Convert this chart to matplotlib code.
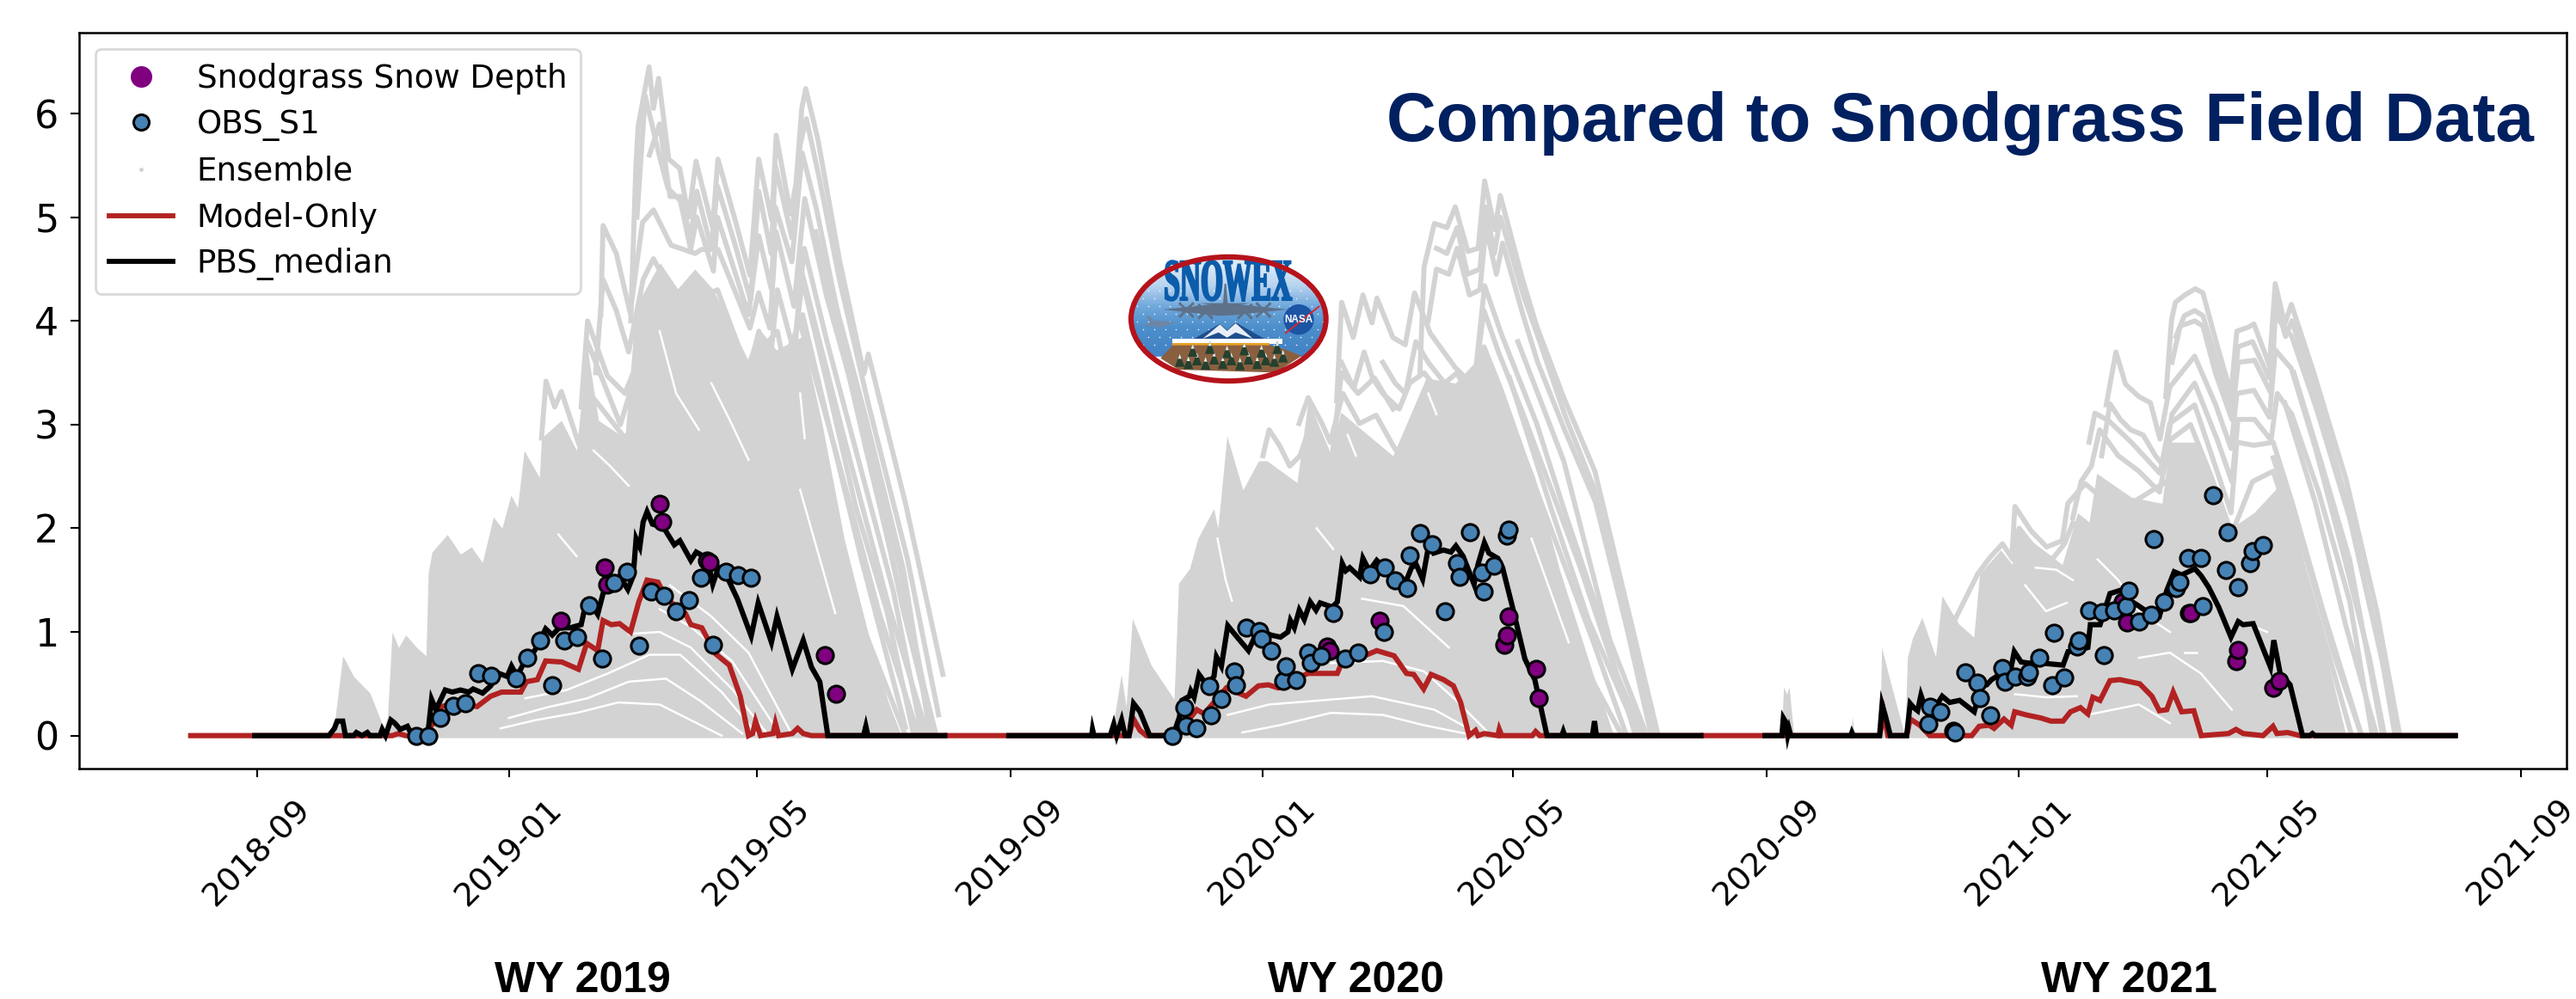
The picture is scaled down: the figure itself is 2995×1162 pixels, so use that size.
import matplotlib
matplotlib.use("Agg")
import matplotlib.pyplot as plt
import matplotlib.dates as mdates
import numpy as np
from datetime import datetime
from matplotlib.lines import Line2D
from matplotlib.patches import Ellipse, Circle, Polygon, Rectangle, PathPatch
from matplotlib.textpath import TextPath
from matplotlib.font_manager import FontProperties
from matplotlib.transforms import Affine2D

# all day values are days since 1 Oct of the start of the water year
wy_starts = [datetime(2018, 10, 1), datetime(2019, 10, 1), datetime(2020, 10, 1)]
wy_labels = ["WY 2019", "WY 2020", "WY 2021"]
y_ticks = [0, 1, 2, 3, 4, 5, 6]
legend_labels = ["Snodgrass Snow Depth", "OBS_S1", "Ensemble", "Model-Only", "PBS_median"]

obs_days_19 = [47, 53, 59, 65, 71, 77, 83.5, 95.4, 101, 107, 113, 119, 125, 131, 137, 143, 149, 155, 161, 167, 173, 179, 185, 191, 197, 203, 209]
obs_vals_19 = [0, 0, .17, .29, .31, .60, .58, .55, .75, .92, .49, .92, .95, 1.26, .74, 1.47, 1.58, .87, 1.39, 1.35, 1.20, 1.31, 1.52, .88, 1.58, 1.55, 1.52]
obs_days_20 = [48, 54, 55, 60, 67, 66, 72, 78, 79, 84, 90, 91.5, 96, 102, 103, 108, 114, 115, 120, 126, 132, 138, 144, 150.5, 151, 156, 162, 163, 168, 174, 180, 186, 187, 192, 198, 199, 204, 210, 211]
obs_vals_20 = [0, .27, .10, .07, .20, .48, .35, .62, .49, 1.04, 1.01, .93, .82, .53, .67, .54, .80, .70, .77, 1.18, .74, .80, 1.56, 1.00, 1.62, 1.50, 1.42, 1.74, 1.95, 1.85, 1.20, 1.66, 1.53, 1.96, 1.57, 1.39, 1.64, 1.93, 1.99]
obs_days_21 = [48, 49, 54, 60, 61, 66, 72, 73, 78, 84, 85, 90, 96, 97, 102, 108, 109, 114, 120, 121, 126, 132, 133, 138, 144, 145, 150, 156, 157, 162, 168, 169.5, 174, 180, 181, 186, 192, 193, 198, 204, 205, 210]
obs_vals_21 = [.11, .28, .23, .05, .03, .61, .51, .36, .20, .65, .52, .57, .57, .61, .75, .49, .99, .56, .86, .92, 1.21, 1.19, .78, 1.21, 1.25, 1.40, 1.10, 1.17, 1.90, 1.29, 1.42, 1.48, 1.71, 1.71, 1.25, 2.32, 1.60, 1.96, 1.43, 1.66, 1.78, 1.84]

field_days_19 = [117.2, 138.4, 139.5, 165.2, 166.3, 188, 189, 245.1, 250.2]
field_vals_19 = [1.11, 1.62, 1.46, 2.24, 2.06, 1.69, 1.67, .78, .40]
field_days_20 = [123.2, 124.2, 148.3, 209, 210.2, 210.9, 224.3, 225.3]
field_vals_20 = [.86, .82, 1.11, .88, .97, 1.15, .64, .36]
field_days_21 = [142.2, 144.4, 174.2, 175.2, 197.2, 198.1, 214.9, 218]
field_vals_21 = [1.29, 1.09, 1.18, 1.18, .72, .83, .46, .53]

pbs_days_19 = [-31, 4.9, 7.6, 8.9, 11.6, 12.9, 16.9, 18.2, 20.9, 23.5, 24.8, 29.6, 30.7, 32.3, 34.9, 36.8, 39.4, 42.9, 44.7, 52.7, 54.6, 56.7, 61.2, 64.6, 68.6, 72.6, 74.7, 79.3, 83.2, 87.2, 91.2, 93.3, 96, 99.2, 101.8, 104.5, 107.1, 109.8, 113, 116.4, 121.7, 127, 128.9, 131.5, 135, 137.6, 141.6, 145.6, 149.6, 152.2, 153.6, 155.4, 157, 158.9, 161.5, 166.8, 172.1, 174.8, 180.1, 182.7, 188, 190.7, 193.4, 197.4, 202.6, 209.3, 212.7, 219.1, 221.8, 229.2, 234.5, 238.5, 242.5, 246.4, 263.7, 264.8, 265.8, 303]
pbs_vals_19 = [0, 0, .07, .14, .14, 0, 0, .03, 0, .03, 0, 0, .06, 0, .15, .12, .06, .09, .02, 0, .35, .25, .44, .42, .44, .42, .45, .41, .48, .6, .57, .67, .57, .7, .77, .82, .92, 1.03, .97, 1.04, 1.04, 1.07, 1.24, 1.28, 1.17, 1.37, 1.48, 1.54, 1.41, 1.54, 1.9, 1.82, 2.06, 2.16, 2.04, 2.01, 1.84, 1.88, 1.69, 1.77, 1.71, 1.46, 1.62, 1.54, 1.32, .96, 1.28, .9, 1.15, .64, .92, .66, .52, 0, 0, .09, 0, 0]
pbs_days_20 = [-31, 9.1, 9.5, 10.2, 18.1, 19.8, 21.2, 23.6, 25.3, 27.2, 29.4, 32.5, 37.2, 48.5, 51.6, 52.8, 56.4, 57.1, 58.7, 61.1, 64.7, 68.3, 69.5, 71.9, 75, 79.1, 85, 89.8, 95.8, 100.5, 104.1, 105.3, 107.2, 109.6, 112, 114.9, 117.7, 119.7, 125.6, 128, 130.4, 132.1, 134, 138.8, 140.4, 143.5, 147.1, 150.7, 155.5, 161.5, 163.9, 166.2, 169.3, 172.2, 174.6, 179.4, 183, 185.4, 188.9, 194.2, 196.1, 199.2, 201.4, 205.7, 208, 212.8, 218.8, 223.6, 229.5, 236.7, 237.4, 238.1, 251.5, 252.5, 253.4, 304]
pbs_vals_20 = [0, 0, .06, 0, 0, .11, 0, .15, 0, 0, .31, .23, 0, 0, .18, .34, .38, .43, .37, .59, .49, .57, .76, .67, 1.06, .96, .82, 1.03, .97, .95, 1.0, 1.11, 1.04, 1.21, 1.12, 1.29, 1.21, 1.28, 1.24, 1.29, 1.66, 1.59, 1.62, 1.53, 1.71, 1.59, 1.69, 1.62, 1.54, 1.5, 1.62, 1.65, 1.51, 1.83, 1.76, 1.79, 1.77, 1.83, 1.73, 1.46, 1.65, 1.86, 1.76, 1.71, 1.62, 1.24, .74, .54, 0, 0, .04, 0, 0, .14, 0, 0]
pbs_days_21 = [-31, -22.8, -22.1, -20.9, -20, -19.3, -18.5, 10.6, 11.1, 11.8, 24.5, 25.7, 27.3, 29.7, 37.6, 39.3, 41, 42.9, 44.5, 46.4, 50, 54.8, 58.4, 63.2, 70.3, 73.9, 76.3, 78.7, 83.5, 88.2, 89.7, 93, 96.6, 102.6, 113.3, 115.7, 120.5, 125.3, 126.5, 131.2, 136, 140.8, 144.4, 149.2, 155.1, 159.9, 163.5, 167.1, 170.7, 177.1, 180.2, 183.8, 188.6, 194.6, 198.1, 200.5, 205.3, 207.7, 213.7, 215.3, 218.4, 223.2, 229.2, 232.8, 234, 235.2, 303.2]
pbs_vals_21 = [0, 0, .17, .13, 0, .06, 0, 0, .03, 0, 0, .30, .19, 0, 0, .31, .27, .24, .39, .28, .23, .38, .32, .34, .23, .49, .49, .54, .6, .66, .81, .71, .70, .70, .68, .81, .82, .85, 1.07, 1.07, 1.37, 1.40, 1.32, 1.26, 1.18, 1.15, 1.40, 1.58, 1.55, 1.61, 1.54, 1.43, 1.24, .95, 1.10, 1.07, 1.08, .96, .66, .92, .60, .49, 0, 0, .02, 0, 0]

model_days_19 = [-62, 35.5, 38.6, 42, 52, 59.3, 67.3, 76.6, 83.2, 88.5, 97.8, 100.5, 105.8, 109.8, 117.7, 125.7, 129.7, 135, 137.6, 141.6, 145.6, 150.9, 154.9, 158.9, 164.2, 168.2, 177.4, 180.1, 185.4, 192, 198.7, 204, 208, 210, 211.4, 213.8, 219.9, 221, 222.6, 229.2, 231.8, 234.5, 238.5, 303]
model_vals_19 = [0, 0, .02, 0, 0, .28, .32, .28, .38, .42, .42, .52, .54, .72, .71, .64, .89, .82, 1.11, 1.07, 1.08, 1.0, 1.29, 1.5, 1.48, 1.32, 1.18, 1.07, 1.04, .79, .68, .38, 0, .02, .14, 0, .02, .12, 0, .02, .07, .02, 0, 0]
model_days_20 = [-61, 27.2, 29.4, 32.5, 35.6, 51.6, 55.2, 60, 63.5, 74.3, 79.1, 83.8, 89.8, 94.6, 99.4, 105.3, 113.7, 124.4, 128, 131.6, 141.2, 147.1, 155.5, 161.5, 165, 169.8, 173.4, 179.4, 184.2, 187.7, 191.8, 194.9, 196.1, 199.2, 205.7, 206.4, 207.6, 222.4, 224, 226, 304]
model_vals_20 = [0, 0, .16, .05, 0, 0, .13, .25, .21, .46, .42, .38, .48, .49, .46, .52, .6, .6, .6, .77, .77, .82, .77, .6, .59, .45, .59, .54, .48, .32, 0, .05, 0, .02, 0, .06, 0, 0, .04, 0, 0]
model_days_21 = [-61, 24.5, 26.6, 28.5, 37.6, 39.3, 44, 48.8, 69.1, 72.7, 77.5, 79.9, 84.7, 88.2, 89.9, 95.4, 102.6, 107.4, 113.3, 116.9, 121.7, 125.3, 127.7, 131.2, 136, 140.8, 150.4, 156.3, 159.9, 163.5, 166.6, 170.7, 176.6, 180.2, 193.4, 197, 200.5, 210.1, 214.9, 216.8, 222, 228, 303]
model_vals_21 = [0, 0, .21, 0, 0, .16, .10, 0, 0, .09, .10, .07, .16, .10, .23, .2, .17, .14, .14, .23, .27, .21, .37, .34, .53, .54, .5, .38, .24, .25, .42, .23, .24, 0, .02, .06, .02, 0, .09, .02, .03, 0, 0]

# solid part of the ensemble (top edge)
body_days_19 = [7.6, 8.1, 11.6, 16.9, 24.8, 31.5, 33.3, 35.5, 38.6, 42.1, 47.4, 51.9, 53, 54.8, 62.2, 68.6, 73.9, 79.2, 84.5, 88.7, 93, 96.2, 99.4, 106.8, 107.8, 117.4, 124.8, 128, 130.1, 135.4, 148.2, 153.5, 165.2, 173.7, 182, 190.6, 207.6, 212.9, 221.4, 234.2, 243.7, 254.3, 265, 275.6, 282]
body_vals_19 = [0, .2, .77, .57, .41, .07, .19, 1.0, .85, .97, .85, .77, 1.57, 1.77, 1.94, 1.75, 1.82, 1.67, 2.11, 2.0, 2.32, 2.2, 2.75, 2.49, 2.87, 3.04, 2.75, 3.42, 3.72, 3.04, 2.87, 4.14, 4.56, 4.31, 4.5, 4.31, 3.63, 3.93, 3.72, 3.85, 3.0, 1.9, 1.05, .33, 0]
body_days_20 = [9, 9.8, 10.6, 18.7, 23.4, 25.8, 28.8, 37.9, 49, 51.2, 56.5, 60.5, 68.2, 70.2, 74.6, 82.3, 89.9, 94, 108.5, 113.9, 124.6, 129.7, 142.8, 154.9, 171, 185.1, 199.3, 207.3, 223.5, 235.6, 251.7, 261.8]
body_vals_20 = [0, .16, 0, 0, .59, .28, 1.13, .68, .35, 1.47, 1.61, 1.9, 2.19, 2.0, 2.89, 2.37, 2.65, 2.65, 2.44, 3.23, 2.73, 3.12, 2.9, 2.7, 3.45, 3.4, 3.7, 3.3, 2.5, 1.6, .6, 0]
body_days_21 = [-23, -22, -20.5, -19.3, -17, 10.5, 11.3, 12.2, 24.6, 25.5, 29.3, 36.7, 38, 40.4, 45, 51.6, 54.7, 62.7, 70.1, 72.9, 83.1, 88.7, 90, 112.9, 120.3, 125.9, 129.6, 146.3, 161.2, 164.9, 177, 194.6, 205.7, 216.9, 229.9, 241, 250.3]
body_vals_21 = [0, .47, .4, .47, 0, 0, .18, 0, 0, .85, .55, 0, .76, .94, 1.14, .76, 1.35, 1.08, .95, 1.56, 1.79, 1.65, 2.0, 1.65, 2.15, 2.06, 2.53, 2.3, 2.24, 2.83, 2.83, 2.0, 2.15, 2.39, 1.65, .76, 0]

# single ensemble members that stand out above the solid part
ens_19 = [
    ([151, 153.5, 154.6, 159.9, 162, 164.5, 169.4, 174.7, 179, 182.6, 190.6, 193.2, 201.3, 208.7, 212.9, 219.3, 221.4, 228.4, 231, 233.8, 235.7, 241.6, 252.2, 263.9, 266, 284, 302.1],
     [4.0, 5.5, 5.88, 6.45, 6.05, 6.34, 5.56, 5.47, 5.0, 5.54, 4.9, 5.56, 4.99, 4.44, 5.56, 4.97, 5.79, 5.03, 5.33, 6.05, 6.24, 5.75, 4.57, 3.49, 3.68, 2.24, .59]),
    ([160, 165, 170, 175, 180, 183, 190, 193, 202, 209, 213, 219, 221, 229, 233, 236, 242, 252, 266, 285, 300],
     [5.6, 5.9, 5.2, 5.2, 4.8, 5.25, 4.7, 5.3, 4.7, 4.2, 5.25, 4.65, 5.5, 4.8, 5.7, 5.95, 5.4, 4.4, 3.2, 1.7, .2]),
    ([136.5, 137.6, 144, 150.7, 156.7, 162, 170.5, 182.2, 185.3, 193.2, 208.7, 212.9, 218.3, 221.4, 230, 235.2, 245.9, 266, 282, 296.8],
     [4.06, 4.92, 4.65, 4.08, 4.95, 5.07, 4.73, 4.65, 4.69, 4.69, 3.93, 4.27, 3.93, 4.86, 4.14, 5.18, 4.23, 2.81, 1.56, .08]),
    ([127, 130.1, 139.7, 148.2, 156.7, 164.1, 180, 192.8, 209.8, 212.9, 222.5, 234.2, 245.9, 262.8, 284],
     [3.17, 4.0, 3.47, 3.3, 3.72, 3.97, 3.47, 3.38, 3.0, 3.3, 3.47, 4.06, 3.08, 1.69, .08]),
    ([107.8, 110, 114.2, 117.4, 125.9, 131.2, 148.2, 160.9, 180, 211.9, 233.1, 250.1, 275.6],
     [2.87, 3.42, 3.17, 3.32, 2.81, 3.3, 2.87, 3.21, 2.7, 2.37, 2.87, 1.82, .08]),
    ([154, 158, 165, 169, 175, 180, 183, 191, 193, 208, 213, 219, 221, 229, 234, 241, 254, 266, 283, 298],
     [5.0, 6.17, 5.58, 5.28, 5.16, 4.69, 5.0, 4.48, 5.0, 4.06, 4.82, 4.31, 5.1, 4.57, 5.62, 5.07, 3.8, 2.75, 1.2, 0]),
    ([134, 137.6, 144, 150, 157, 162, 170, 182, 193, 208, 213, 218, 222, 230, 235, 246, 262, 278, 292],
     [3.5, 4.4, 4.1, 3.7, 4.4, 4.6, 4.3, 4.2, 4.3, 3.5, 3.9, 3.5, 4.3, 3.7, 4.7, 3.8, 2.6, 1.4, 0]),
    ([128, 130, 138, 146, 152, 157, 165, 175, 185, 193, 205, 213, 222, 228, 234, 246, 260, 275, 288],
     [3.4, 3.8, 3.4, 3.0, 3.4, 4.2, 4.05, 3.7, 3.9, 3.75, 3.2, 3.7, 3.9, 3.3, 4.4, 3.4, 2.2, 1.2, 0]),
    ([240.5, 265, 284, 298.9], [4.86, 2.75, 1.18, 0]),
    ([245, 265, 283, 296], [4.55, 3.05, 1.6, 0]),
    ([234.2, 254.3, 275.6, 294.7], [4.44, 2.87, 1.27, 0]),
    ([233.1, 250.1, 271.3, 290.4], [3.97, 2.75, 1.18, 0]),
    ([233.1, 250.1, 265, 284], [3.47, 2.11, .97, 0]),
]
ens_20 = [
    ([168, 170, 175, 181.1, 185.1, 191.2, 196.2, 199.3, 204.3, 206.9, 217.4, 224.5, 237.6, 252.7, 267.8, 283],
     [3.5, 4.52, 4.94, 4.9, 5.1, 4.67, 4.7, 5.35, 4.88, 5.21, 4.42, 3.95, 3.26, 2.55, 1.29, .03]),
    ([176, 181, 186, 191, 197, 200, 204, 207, 218, 226, 238, 252, 267, 282],
     [4.7, 4.65, 4.9, 4.45, 4.5, 5.1, 4.65, 5.0, 4.25, 3.8, 3.1, 2.4, 1.2, 0]),
    ([127.7, 130.1, 135.7, 140.4, 144.8, 147.2, 154.9, 160.9, 165.4, 173, 185.1, 194.2, 199.3, 207.3, 224.5, 237.6, 252.7, 271.9],
     [3.23, 4.18, 3.84, 4.25, 3.98, 4.22, 3.84, 3.77, 4.27, 3.88, 3.55, 3.37, 4.34, 3.88, 3.01, 2.19, 1.29, .03]),
    ([109.5, 113.9, 120.6, 124.6, 130.7, 138.7, 146.8, 154.9, 160.9, 169, 185.1, 199.3, 213.4, 225.5, 239.6, 255.7],
     [3.01, 3.26, 3.01, 2.83, 3.3, 3.01, 3.09, 2.8, 2.62, 3.09, 2.73, 3.37, 2.73, 2.01, .93, .03]),
    ([172, 176, 182, 186, 192, 197, 200, 205, 208, 218, 225, 238, 253, 268, 280],
     [4.0, 4.5, 4.45, 4.7, 4.25, 4.3, 4.9, 4.45, 4.75, 4.05, 3.6, 2.95, 2.25, 1.05, 0]),
    ([150, 156, 161, 166, 172, 180, 186, 193, 199, 206, 218, 232, 246, 262, 276],
     [3.6, 3.4, 3.3, 3.8, 3.6, 3.4, 3.5, 3.2, 4.1, 3.7, 3.1, 2.35, 1.6, .65, 0]),
    ([130, 136, 141, 145, 150, 158, 163, 170, 182, 192, 199, 207, 222, 236, 252, 268],
     [3.6, 3.35, 3.7, 3.45, 3.3, 3.15, 3.4, 3.5, 3.2, 3.05, 3.75, 3.35, 2.5, 1.75, .9, 0]),
    ([92, 95, 100, 105, 110, 115, 120, 125, 130, 138, 146, 155],
     [2.7, 2.95, 2.8, 2.6, 2.7, 3.0, 2.7, 2.6, 3.5, 3.3, 3.45, 3.15]),
    ([215.4, 237.6, 259.8, 277.9], [3.8, 2.65, .93, 0]),
    ([211.4, 231.5, 249.7, 273.9], [3.45, 2.19, 1.11, 0]),
    ([207.3, 227.5, 245.7, 265.8], [2.9, 1.83, .75, 0]),
]
ens_21 = [
    ([163, 165.8, 167.7, 172.3, 177.3, 181, 187.2, 194.6, 197.4, 203, 205.7, 213.2, 216, 220.6, 223.8, 234.5, 250.3, 265.2, 276.3],
     [3.27, 4.01, 4.18, 4.25, 4.31, 4.27, 3.81, 3.3, 3.9, 3.94, 3.97, 3.57, 4.36, 3.97, 4.16, 3.51, 2.47, 1.2, 0]),
    ([168, 172, 177, 181, 187, 195, 198, 205, 213, 216, 221, 224, 235, 250, 265, 275],
     [3.85, 4.05, 4.1, 4.05, 3.65, 3.15, 3.75, 3.8, 3.45, 4.2, 3.85, 4.0, 3.35, 2.3, 1.0, 0]),
    ([134.2, 138.9, 143.5, 150, 155.6, 160.2, 164.9, 177, 187.2, 194.6, 197.4, 205.7, 213.2, 216, 223.8, 235.5, 250.3, 261.5, 268.9],
     [3.19, 3.7, 3.39, 3.27, 3.21, 2.86, 3.36, 3.66, 3.19, 2.77, 3.3, 3.33, 3.07, 3.72, 3.54, 2.77, 1.65, .76, 0]),
    ([125.9, 128.7, 135.2, 146.3, 160.2, 164.9, 177, 194.6, 197.4, 205.7, 215, 224.3, 239.2, 257.8],
     [2.83, 3.11, 3.04, 2.83, 2.53, 3.01, 3.19, 2.15, 2.83, 2.8, 2.83, 2.24, 1.2, 0]),
    ([88.7, 90, 98, 105.4, 112.9, 115.6, 124, 135.2, 146.3, 164.9, 177, 194.6, 205.7, 224.3, 248.5],
     [1.79, 2.21, 1.97, 1.82, 1.88, 2.24, 2.43, 2.24, 2.24, 2.47, 2.53, 1.88, 1.94, 1.35, 0]),
    ([166, 170, 177, 181, 187, 195, 198, 206, 214, 216, 224, 236, 252, 268, 274],
     [3.6, 3.95, 4.0, 3.95, 3.5, 3.05, 3.6, 3.62, 3.3, 4.05, 3.85, 3.15, 2.1, .7, 0]),
    ([132, 136, 141, 146, 152, 158, 162, 166, 177, 188, 195, 198, 206, 214, 217, 224, 237, 252, 263],
     [2.7, 3.2, 3.05, 2.95, 2.9, 2.7, 2.6, 3.1, 3.4, 2.85, 2.45, 3.05, 3.05, 2.85, 3.3, 3.1, 2.35, 1.3, 0]),
    ([118, 122, 127, 131, 140, 150, 160, 165, 175, 185, 195, 205, 215, 224, 238, 253],
     [2.1, 2.45, 2.6, 2.95, 2.7, 2.55, 2.35, 2.85, 3.0, 2.5, 1.95, 2.45, 2.55, 2.0, 1.05, 0]),
    ([60, 72, 78, 84, 89, 92, 100, 108, 114, 118],
     [1.08, 1.56, 1.72, 1.85, 1.7, 2.0, 1.8, 1.7, 1.85, 2.05]),
    ([225, 238, 252, 268], [3.5, 2.65, 1.7, 0]),
    ([220.6, 235.5, 250.3, 265.2], [3.21, 2.24, 1.05, 0]),
    ([215, 231.8, 244.8, 257.8], [2.68, 1.65, .76, 0]),
]

# white slivers left open inside the solid part
gaps_19 = [
    ([88, 105, 125, 145, 165, 180, 195], [.07, .15, .22, .32, .30, .15, 0]),
    ([92, 110, 130, 150, 168, 185, 205], [.17, .27, .36, .52, .55, .33, .02]),
    ([100, 120, 140, 160, 175, 195, 212], [.36, .44, .60, .78, .78, .42, .02]),
    ([150, 165, 180, 200, 217], [.98, 1.0, .85, .45, .02]),
    ([165, 180, 200, 222], [1.22, 1.05, .72, .05]),
    ([170, 190, 208, 228], [1.45, 1.15, .80, .05]),
    ([133, 141, 150], [2.75, 2.6, 2.41]),
    ([165, 173, 184], [3.9, 3.3, 2.95]),
    ([190, 200, 208], [3.4, 3.0, 2.66]),
    ([233, 235.2], [3.3, 2.87]),
    ([116, 124.8], [1.94, 1.73]),
    ([233, 250], [2.37, 1.18]),
]
gaps_20 = [
    ([82, 100, 125, 150, 170, 190], [.03, .1, .22, .20, .1, .02]),
    ([75, 95, 120, 145, 175, 195], [.2, .3, .34, .38, .25, .03]),
    ([125, 150, 170, 185, 200], [.70, .72, .62, .35, .05]),
    ([140, 160, 182], [1.32, 1.25, .85]),
    ([70, 74, 77], [1.9, 1.5, 1.3]),
    ([118, 126], [2.0, 1.8]),
    ([172, 176], [3.3, 3.1]),
    ([133, 137], [2.9, 2.7]),
    ([222, 240], [1.9, .9]),
]
gaps_21 = [
    ([90, 105, 120], [.4, .37, .38]),
    ([125, 140, 150, 165], [.2, .26, .3, .12]),
    ([95, 105, 115], [1.45, 1.2, 1.28]),
    ([100, 110, 118], [1.62, 1.6, 1.5]),
    ([130, 140, 150, 165], [1.7, 1.5, 1.2, 1.0]),
    ([172, 178], [.8, .8]),
    ([200, 212], [1.1, 1.0]),
    ([150, 165, 180, 195], [.75, .8, .6, .25]),
]

GRAY = "#d3d3d3"
RED = "#b22222"
BLUE = "#4682b4"
PURPLE = "#800080"
NAVY = "#002060"
W, H = 2995, 1162


def to_x(start, days):
    return mdates.date2num(start) + np.array(days, dtype=float)


def draw_logo(fig):
    # logo area is the 320x190 px patch around the ellipse, drawn in 3x units
    lax = fig.add_axes([1250 / W, 1 - 460 / H, 320 / W, 190 / H])
    lax.set_xlim(0, 960)
    lax.set_ylim(570, 0)
    lax.axis("off")
    clip = Ellipse((535, 303), 690, 442, transform=lax.transData)
    grad = np.array([[.87, .92, .97], [.72, .83, .94], [.44, .66, .86], [.30, .56, .80], [.27, .52, .77]])
    im = lax.imshow(grad[:, None, :], extent=[180, 890, 440, 80], aspect="auto", interpolation="bilinear", zorder=1)
    im.set_clip_path(clip)
    ground = Rectangle((180, 435), 710, 100, color="white", zorder=1)
    lax.add_patch(ground)
    ground.set_clip_path(clip)
    gx, gy = np.meshgrid(np.arange(200, 880, 38), np.arange(205, 420, 27))
    gx = gx + (gy % 2) * 17
    flakes = lax.scatter(gx.ravel(), gy.ravel(), s=1.2, c="white", zorder=2, linewidths=0)
    flakes.set_clip_path(clip)
    # SNOWEX lettering
    tp = TextPath((0, 0), "SNOWEX", size=100, prop=FontProperties(family="Liberation Serif", weight="bold"))
    bb = tp.get_extents()
    tr = Affine2D().translate(-bb.x0, -bb.y0).scale(440 / bb.width, -140 / bb.height).translate(315, 240)
    lax.add_patch(PathPatch(tp, fc="#0b5cab", ec="#0b5cab", lw=1.6, transform=tr + lax.transData, zorder=3))
    # planes
    pc = "#5d7189"
    lax.add_patch(Polygon([(305, 270), (500, 250), (550, 250), (740, 270), (550, 290), (500, 292)], fc=pc, ec="none", zorder=4))
    lax.add_patch(Ellipse((524, 268), 50, 44, fc=pc, ec="none", zorder=4))
    lax.add_patch(Polygon([(521, 180), (527, 180), (532, 250), (516, 250)], fc=pc, ec="none", zorder=4))
    lax.add_patch(Polygon([(435, 248), (610, 248), (530, 262), (515, 262)], fc=pc, ec="none", zorder=4))
    for px, py in zip([388, 455, 592, 657], [272, 277, 277, 272]):
        lax.plot([px - 22, px + 22], [py - 22, py + 22], color=pc, lw=2.2, zorder=4)
        lax.plot([px - 22, px + 22], [py + 22, py - 22], color=pc, lw=2.2, zorder=4)
    lax.add_patch(Polygon([(232, 325), (285, 308), (350, 315), (300, 332)], fc="#6d86a5", ec="none", zorder=4))
    lax.add_patch(Polygon([(248, 292), (258, 292), (285, 320), (265, 322)], fc="#6d86a5", ec="none", zorder=4))
    # mountains
    lax.add_patch(Polygon([(410, 375), (505, 320), (530, 342), (560, 315), (665, 375)], fc="#1f4e8c", ec="none", zorder=5))
    lax.add_patch(Polygon([(445, 372), (505, 322), (530, 345), (560, 318), (620, 372), (560, 350), (530, 368), (500, 350)], fc="#e6eef6", ec="none", zorder=5))
    # band and cliff
    lax.add_patch(Rectangle((338, 372), 385, 18, fc="white", ec="none", zorder=6))
    lax.add_patch(Rectangle((338, 388), 340, 14, fc="#e8a028", ec="none", zorder=6))
    cliff = Polygon([(298, 440), (340, 395), (680, 395), (735, 410), (790, 432), (700, 490), (360, 480)], fc="#8a5f3f", ec="none", zorder=6)
    lax.add_patch(cliff)
    cliff.set_clip_path(clip)
    for tx, ty in zip([365, 395, 425, 455, 485, 515, 545, 575, 605, 635, 665, 695, 725, 410, 470, 530, 590, 650, 705],
                      [470, 478, 465, 480, 462, 478, 465, 482, 462, 478, 465, 470, 455, 435, 425, 440, 430, 438, 425]):
        lax.add_patch(Polygon([(tx - 17, ty), (tx, ty - 45), (tx + 17, ty)], fc="#24402f", ec="none", zorder=7))
        lax.add_patch(Polygon([(tx - 6, ty - 28), (tx, ty - 45), (tx + 6, ty - 28)], fc="#e4e8e4", ec="none", zorder=7))
    # NASA meatball
    lax.add_patch(Circle((780, 305), 53, fc="#1d55a5", ec="none", zorder=8))
    lax.plot([735, 850], [352, 260], color="#d8282f", lw=1.4, zorder=9)
    lax.text(780, 307, "NASA", color="white", fontsize=8.5, fontweight="bold", family="Liberation Sans", ha="center", va="center", zorder=10)
    # red rim
    lax.add_patch(Ellipse((535, 303), 680, 433, fc="none", ec="#b5131b", lw=4.4, zorder=11))


fig = plt.figure(figsize=(W / 100, H / 100), dpi=100)
ax = fig.add_axes([92 / W, 1 - 894 / H, (2984 - 92) / W, (894 - 38) / H])

sets = [
    (obs_days_19, obs_vals_19, field_days_19, field_vals_19, pbs_days_19, pbs_vals_19, model_days_19, model_vals_19, body_days_19, body_vals_19, ens_19, gaps_19),
    (obs_days_20, obs_vals_20, field_days_20, field_vals_20, pbs_days_20, pbs_vals_20, model_days_20, model_vals_20, body_days_20, body_vals_20, ens_20, gaps_20),
    (obs_days_21, obs_vals_21, field_days_21, field_vals_21, pbs_days_21, pbs_vals_21, model_days_21, model_vals_21, body_days_21, body_vals_21, ens_21, gaps_21),
]
for start, (od, ov, fd, fv, pd_, pv, md, mv, bd, bv, ens, gaps) in zip(wy_starts, sets):
    ax.fill_between(to_x(start, bd), -0.02, bv, color=GRAY, lw=0, zorder=1)
    for ed, ev in ens:
        ax.plot(to_x(start, ed), ev, color=GRAY, lw=4.2, zorder=1)
    for gd, gv in gaps:
        ax.plot(to_x(start, gd), gv, color="white", lw=1.8, zorder=2)
    ax.plot(to_x(start, md), mv, color=RED, lw=4.4, zorder=3, solid_joinstyle="miter")
    ax.plot(to_x(start, pd_), pv, color="black", lw=4.4, zorder=4, solid_joinstyle="miter")
    ax.scatter(to_x(start, fd), fv, s=190, c=PURPLE, edgecolors="black", linewidths=2.2, zorder=5)
    ax.scatter(to_x(start, od), ov, s=190, c=BLUE, edgecolors="black", linewidths=2.2, zorder=6)

ax.set_xlim(mdates.date2num(datetime(2018, 6, 7)), mdates.date2num(datetime(2021, 9, 23)))
ax.set_ylim(-0.318, 6.78)
ax.set_yticks(y_ticks)
ax.xaxis.set_major_locator(mdates.MonthLocator(bymonth=(1, 5, 9)))
ax.xaxis.set_major_formatter(mdates.DateFormatter("%Y-%m"))
ax.tick_params(axis="y", labelsize=32, length=7, width=1.5, pad=10)
ax.tick_params(axis="x", labelsize=27.4, length=7, width=1.5, pad=14, labelrotation=45)
for sp in ax.spines.values():
    sp.set_linewidth(1.8)

handles = [
    Line2D([], [], ls="none", marker="o", ms=17, mfc=PURPLE, mec=PURPLE),
    Line2D([], [], ls="none", marker="o", ms=13, mfc=BLUE, mec="black", mew=2.2),
    Line2D([], [], ls="none", marker="o", ms=2.5, mfc=GRAY, mec=GRAY),
    Line2D([], [], color=RED, lw=4.2),
    Line2D([], [], color="black", lw=4.2),
]
ax.legend(handles, legend_labels, loc="upper left", bbox_to_anchor=(19 / 2892, 1 - 19 / 856), borderaxespad=0,
          fontsize=26.7, labelspacing=0.45, handlelength=2.0, handletextpad=0.75, borderpad=0.42,
          edgecolor="0.85", framealpha=1).get_frame().set_linewidth(2)

fig.text(2946 / W, 1 - 164 / H, "Compared to Snodgrass Field Data", color=NAVY, fontsize=57.6, fontweight="bold",
         family="Liberation Sans", ha="right", va="baseline")
for label, cx in zip(wy_labels, [677, 1576, 2475]):
    fig.text(cx / W, 1 - 1154 / H, label, color="black", fontsize=36, fontweight="bold",
             family="Liberation Sans", ha="center", va="baseline")

draw_logo(fig)
fig.savefig("out.png", dpi=100)
